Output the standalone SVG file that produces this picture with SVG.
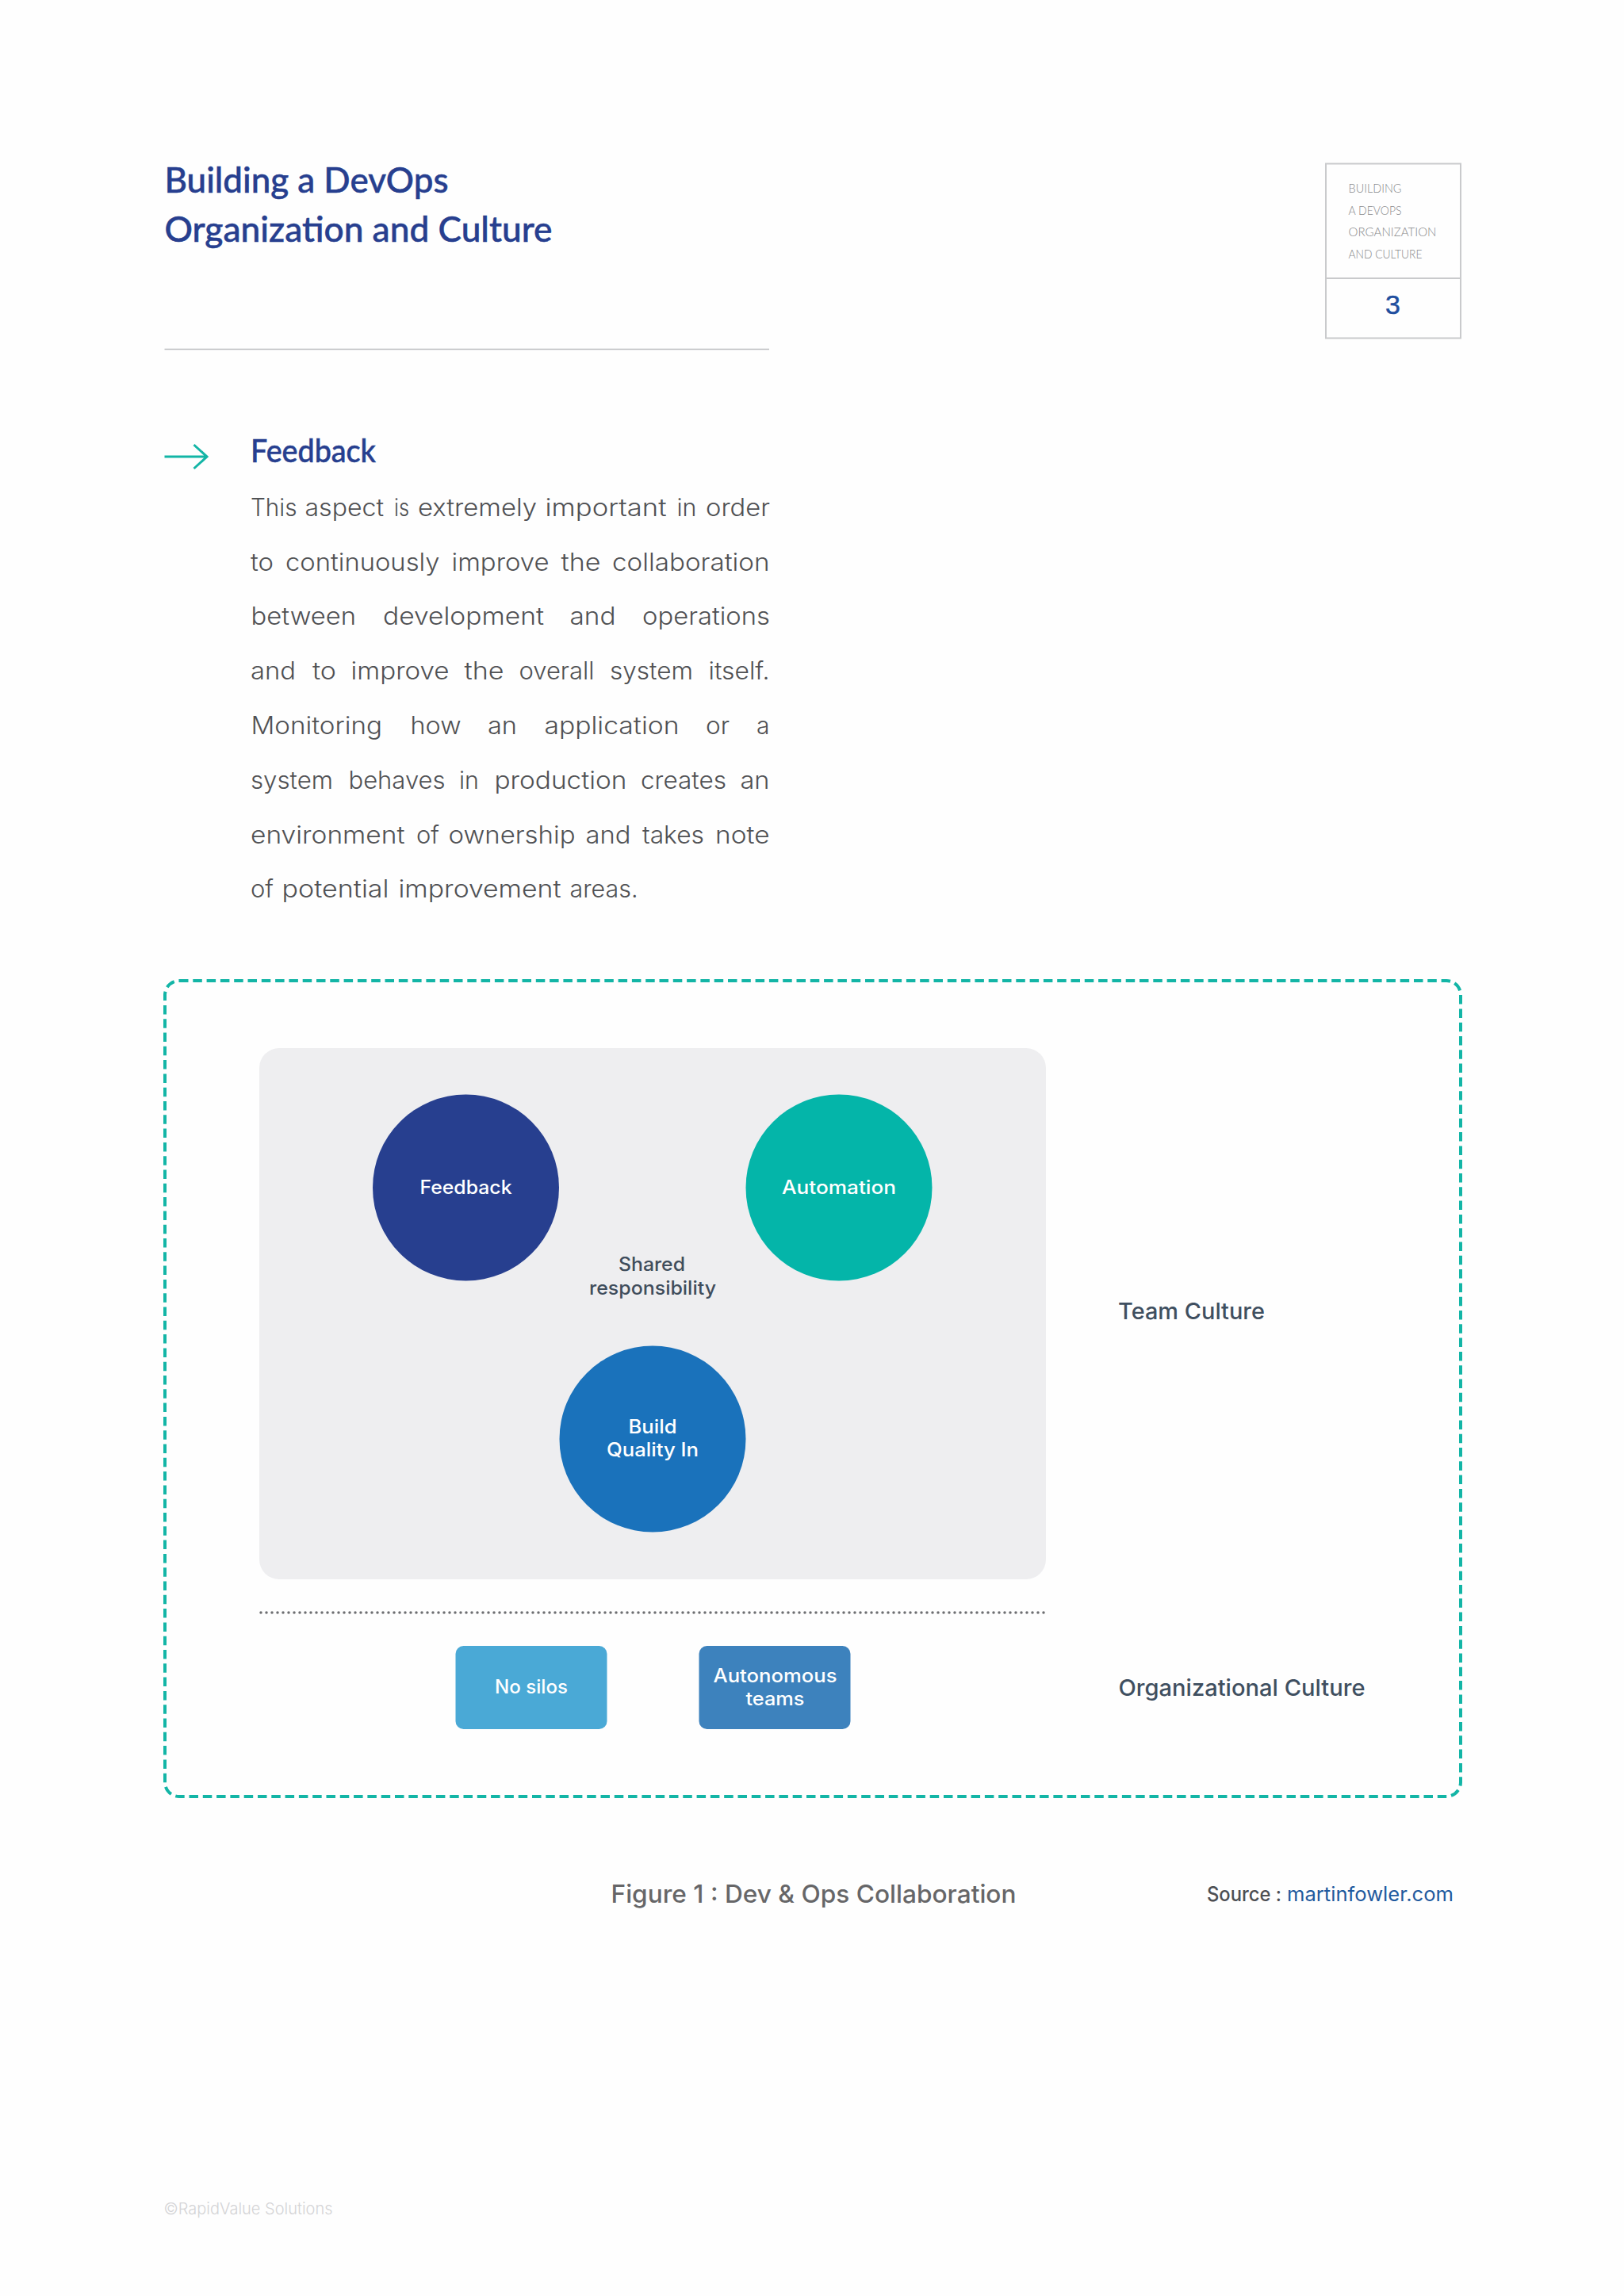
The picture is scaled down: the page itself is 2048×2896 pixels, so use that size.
<svg xmlns="http://www.w3.org/2000/svg" width="2048" height="2896" viewBox="0 0 2048 2896">
<style>
text{font-family:"Inter","Liberation Sans",sans-serif}
.ttl{font-family:"Lato","Liberation Sans",sans-serif;fill:#273f8f;font-weight:500;stroke:#273f8f;stroke-width:.5}
.card{font-family:"Lato","Liberation Sans",sans-serif;font-weight:300;font-size:16.5px;fill:#88898c}
.body{font-weight:300;font-size:30.5px;fill:#505154}
.w{font-weight:500;font-size:24px;fill:#fff;text-anchor:middle}
.d{font-weight:500;font-size:24px;fill:#3f4d5c;text-anchor:middle}
.side{font-weight:500;font-size:28.5px;fill:#3f4f60}
.hair{fill:none;stroke:#c9cacc;stroke-width:2}
</style>
<rect width="2048" height="2896" fill="#fefefe"/>
<g id="header">
<text class="ttl" x="207.500" y="243" font-size="44" textLength="358" lengthAdjust="spacingAndGlyphs">Building a DevOps</text>
<text class="ttl" x="207.500" y="305" font-size="44" textLength="489" lengthAdjust="spacingAndGlyphs">Organization and Culture</text>
<line x1="207.500" y1="440.5" x2="970" y2="440.5" stroke="#bcbdc0" stroke-width="1.5"/>
</g>
<g id="page-card">
<rect class="hair" x="1672" y="206.500" width="170" height="220"/>
<line class="hair" x1="1672" y1="351" x2="1842" y2="351"/>
<text class="card" x="1700.500" y="243" textLength="67" lengthAdjust="spacingAndGlyphs">BUILDING</text>
<text class="card" x="1700.500" y="271" textLength="67" lengthAdjust="spacingAndGlyphs">A DEVOPS</text>
<text class="card" x="1700.500" y="298" textLength="111" lengthAdjust="spacingAndGlyphs">ORGANIZATION</text>
<text class="card" x="1700.500" y="326" textLength="93" lengthAdjust="spacingAndGlyphs">AND CULTURE</text>
<text x="1756.500" y="396" font-size="34" font-weight="400" text-anchor="middle" fill="#1f4e9e" stroke="#1f4e9e" stroke-width=".5" style="font-family:'Liberation Sans',sans-serif">3</text>
</g>
<g id="section">
<path d="M207.500 576H260M244.500 561L261 576L244.500 591" fill="none" stroke="#13b5a6" stroke-width="3"/>
<text class="ttl" x="316" y="583" font-size="40" textLength="158" lengthAdjust="spacingAndGlyphs">Feedback</text>
<text class="body" y="651"><tspan x="316" textLength="58.500" lengthAdjust="spacingAndGlyphs">This</tspan> <tspan x="384.500" textLength="99.500" lengthAdjust="spacingAndGlyphs">aspect</tspan> <tspan x="497" textLength="19" lengthAdjust="spacingAndGlyphs">is</tspan> <tspan x="527" textLength="150" lengthAdjust="spacingAndGlyphs">extremely</tspan> <tspan x="687.500" textLength="153" lengthAdjust="spacingAndGlyphs">important</tspan> <tspan x="853.500" textLength="25" lengthAdjust="spacingAndGlyphs">in</tspan> <tspan x="890" textLength="81" lengthAdjust="spacingAndGlyphs">order</tspan></text>
<text class="body" y="720"><tspan x="316" textLength="29" lengthAdjust="spacingAndGlyphs">to</tspan> <tspan x="360" textLength="194.500" lengthAdjust="spacingAndGlyphs">continuously</tspan> <tspan x="569.500" textLength="123" lengthAdjust="spacingAndGlyphs">improve</tspan> <tspan x="707.500" textLength="50" lengthAdjust="spacingAndGlyphs">the</tspan> <tspan x="772" textLength="198.500" lengthAdjust="spacingAndGlyphs">collaboration</tspan></text>
<text class="body" y="788"><tspan x="316.500" textLength="132.500" lengthAdjust="spacingAndGlyphs">between</tspan> <tspan x="483" textLength="203" lengthAdjust="spacingAndGlyphs">development</tspan> <tspan x="718.500" textLength="58" lengthAdjust="spacingAndGlyphs">and</tspan> <tspan x="810" textLength="161" lengthAdjust="spacingAndGlyphs">operations</tspan></text>
<text class="body" y="857"><tspan x="316" textLength="57" lengthAdjust="spacingAndGlyphs">and</tspan> <tspan x="394" textLength="30" lengthAdjust="spacingAndGlyphs">to</tspan> <tspan x="442.500" textLength="124" lengthAdjust="spacingAndGlyphs">improve</tspan> <tspan x="585.500" textLength="50" lengthAdjust="spacingAndGlyphs">the</tspan> <tspan x="654.500" textLength="95" lengthAdjust="spacingAndGlyphs">overall</tspan> <tspan x="769" textLength="105" lengthAdjust="spacingAndGlyphs">system</tspan> <tspan x="893.500" textLength="77" lengthAdjust="spacingAndGlyphs">itself.</tspan></text>
<text class="body" y="926"><tspan x="316.500" textLength="165.500" lengthAdjust="spacingAndGlyphs">Monitoring</tspan> <tspan x="517.500" textLength="64" lengthAdjust="spacingAndGlyphs">how</tspan> <tspan x="615" textLength="37" lengthAdjust="spacingAndGlyphs">an</tspan> <tspan x="686.500" textLength="170" lengthAdjust="spacingAndGlyphs">application</tspan> <tspan x="890" textLength="30" lengthAdjust="spacingAndGlyphs">or</tspan> <tspan x="954" textLength="16.500" lengthAdjust="spacingAndGlyphs">a</tspan></text>
<text class="body" y="995"><tspan x="316" textLength="104" lengthAdjust="spacingAndGlyphs">system</tspan> <tspan x="439.500" textLength="122" lengthAdjust="spacingAndGlyphs">behaves</tspan> <tspan x="579" textLength="25" lengthAdjust="spacingAndGlyphs">in</tspan> <tspan x="623.500" textLength="167" lengthAdjust="spacingAndGlyphs">production</tspan> <tspan x="808" textLength="108" lengthAdjust="spacingAndGlyphs">creates</tspan> <tspan x="933.500" textLength="37" lengthAdjust="spacingAndGlyphs">an</tspan></text>
<text class="body" y="1064"><tspan x="316" textLength="194.500" lengthAdjust="spacingAndGlyphs">environment</tspan> <tspan x="525" textLength="29" lengthAdjust="spacingAndGlyphs">of</tspan> <tspan x="565.500" textLength="160" lengthAdjust="spacingAndGlyphs">ownership</tspan> <tspan x="738.500" textLength="57" lengthAdjust="spacingAndGlyphs">and</tspan> <tspan x="810" textLength="78" lengthAdjust="spacingAndGlyphs">takes</tspan> <tspan x="902" textLength="68.500" lengthAdjust="spacingAndGlyphs">note</tspan></text>
<text class="body" y="1132"><tspan x="316" textLength="29" lengthAdjust="spacingAndGlyphs">of</tspan> <tspan x="355.500" textLength="135" lengthAdjust="spacingAndGlyphs">potential</tspan> <tspan x="502.500" textLength="205" lengthAdjust="spacingAndGlyphs">improvement</tspan> <tspan x="718.500" textLength="86" lengthAdjust="spacingAndGlyphs">areas.</tspan></text>
</g>
<g id="connectors">
<rect x="208" y="1237" width="1634" height="1029" rx="18" fill="none" stroke="#13b5a6" stroke-width="4" stroke-dasharray="11.500 5.800"/>
<line x1="329" y1="2034" x2="1320" y2="2034" stroke="#6d6e71" stroke-width="3.500" stroke-linecap="round" stroke-dasharray="0 7"/>
</g>
<g id="team-panel"><rect x="327" y="1322" width="992" height="670" rx="25" fill="#eeeef0"/></g>
<g id="node-feedback"><circle cx="587.500" cy="1498" r="117.500" fill="#273f8f"/><text class="w" x="587.500" y="1506" textLength="116" lengthAdjust="spacingAndGlyphs">Feedback</text></g>
<g id="node-automation"><circle cx="1058" cy="1498" r="117.500" fill="#04b5a9"/><text class="w" x="1058" y="1506" textLength="144" lengthAdjust="spacingAndGlyphs">Automation</text></g>
<g id="node-shared"><text class="d" x="822" y="1603" textLength="84" lengthAdjust="spacingAndGlyphs">Shared</text><text class="d" x="823" y="1633" textLength="160" lengthAdjust="spacingAndGlyphs">responsibility</text></g>
<g id="node-quality"><circle cx="823" cy="1815" r="117.500" fill="#1a72bb"/><text class="w" x="823" y="1808" textLength="61" lengthAdjust="spacingAndGlyphs">Build</text><text class="w" x="823" y="1837" textLength="116" lengthAdjust="spacingAndGlyphs">Quality In</text></g>
<g id="node-silos"><rect x="574.500" y="2076" width="191" height="105" rx="10" fill="#4aa9d6"/><text class="w" x="670" y="2136" textLength="92" lengthAdjust="spacingAndGlyphs">No silos</text></g>
<g id="node-autonomous"><rect x="881.500" y="2076" width="191" height="105" rx="10" fill="#3d82bd"/><text class="w" x="977.500" y="2122" textLength="156" lengthAdjust="spacingAndGlyphs">Autonomous</text><text class="w" x="977.500" y="2151" textLength="74" lengthAdjust="spacingAndGlyphs">teams</text></g>
<g id="label-team"><text class="side" x="1410" y="1664" textLength="185" lengthAdjust="spacingAndGlyphs">Team Culture</text></g>
<g id="label-org"><text class="side" x="1410.500" y="2139" textLength="311" lengthAdjust="spacingAndGlyphs">Organizational Culture</text></g>
<g id="caption">
<text x="770.500" y="2400" font-size="31" font-weight="500" fill="#666668" textLength="511" lengthAdjust="spacingAndGlyphs">Figure 1 : Dev &amp; Ops Collaboration</text>
<text x="1522" y="2398" font-size="25" font-weight="500" fill="#4d4f53" textLength="94" lengthAdjust="spacingAndGlyphs">Source :</text>
<text x="1623" y="2398" font-size="25" font-weight="400" fill="#1f5a9e" textLength="210" lengthAdjust="spacingAndGlyphs">martinfowler.com</text>
</g>
<g id="footer"><text x="206.500" y="2793" font-size="20.500" font-weight="300" fill="#d4d4d6" textLength="213" lengthAdjust="spacingAndGlyphs">©RapidValue Solutions</text></g>
</svg>
